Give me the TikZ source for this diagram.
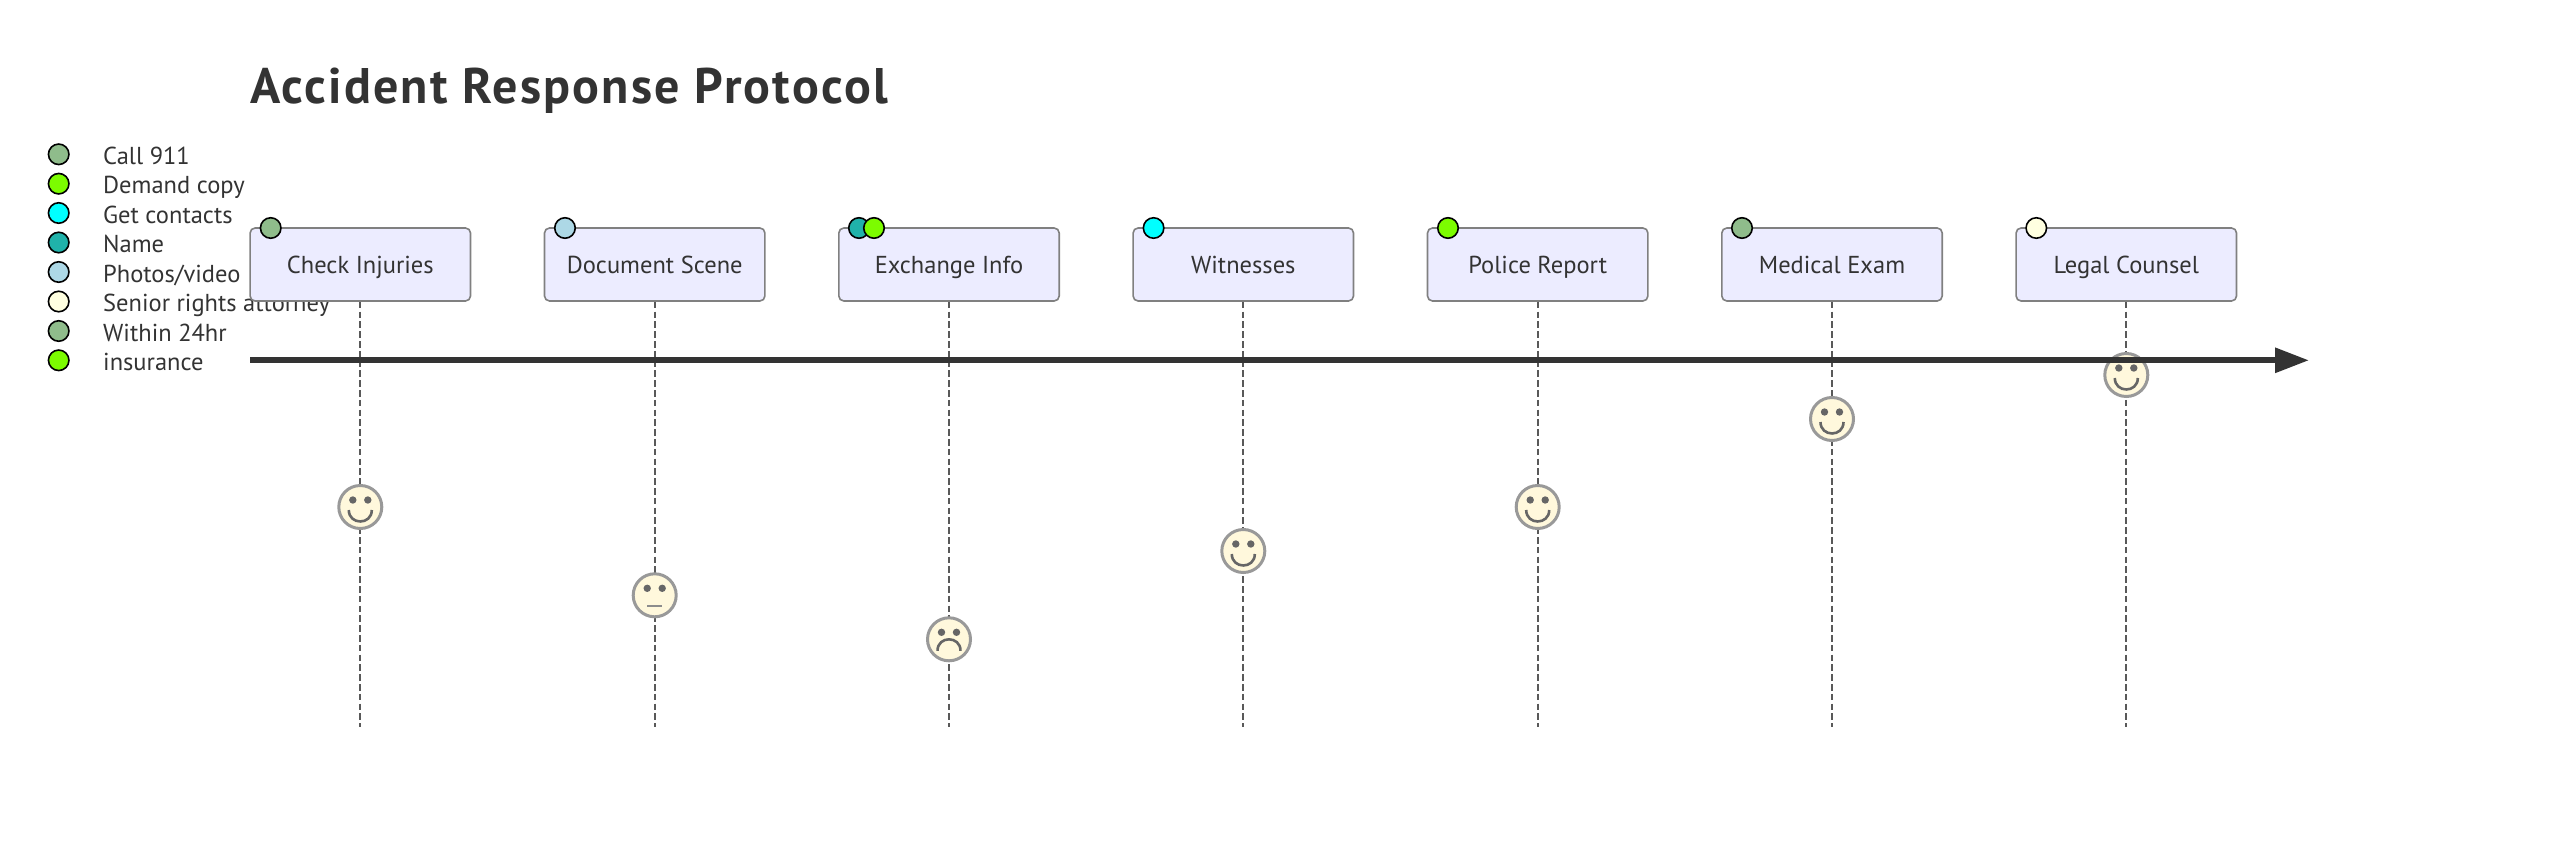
\documentclass[tikz,border=0pt]{standalone}
\usepackage{fontspec}
\setmainfont{PT Sans}
\newfontfamily\titlefont[LetterSpace=4.4]{PT Sans Bold}
\usetikzlibrary{arrows.meta}
\definecolor{txt}{HTML}{333333}
\definecolor{boxfill}{HTML}{ECECFF}
\definecolor{boxline}{HTML}{808080}
\definecolor{facefill}{HTML}{FFF8DC}
\definecolor{cA}{HTML}{8FBC8B}
\definecolor{cB}{HTML}{7CFC00}
\definecolor{cC}{HTML}{00FFFF}
\definecolor{cD}{HTML}{20B2AA}
\definecolor{cE}{HTML}{ADD8E6}
\definecolor{cF}{HTML}{FFFFE0}
\tikzset{
  x=1pt,y=-1pt,
  titletext/.style={anchor=base west,inner sep=0,text=txt,font=\fontsize{50}{50}\titlefont},
  legtext/.style={anchor=base west,inner sep=0,text=txt,font=\fontsize{24.5}{24.5}\selectfont},
  dot/.style={circle,draw=black,line width=1.6pt,minimum size=20.5pt,inner sep=0},
  taskbox/.style={draw=boxline,fill=boxfill,line width=1.6pt,rounded corners=5pt,minimum width=220.4pt,minimum height=73pt,inner sep=0,text=txt,text height=18pt,text depth=0.4pt,font=\fontsize{24.5}{24.5}\selectfont},
  faceline/.style={draw=black!65!white,line width=2pt,dash pattern=on 6.5pt off 3.3pt},
  face/.style={circle,draw=black!40!white,fill=facefill,line width=3pt,minimum size=43pt,inner sep=0},
  eye/.style={circle,fill=black!60!white,minimum size=7.4pt,inner sep=0},
  mouth/.style={draw=black!60!white,line width=2.6pt},
  flatmouth/.style={draw=black!45!white,line width=1.6pt},
  axis/.style={draw=txt,line width=6pt,-{Triangle[length=34pt,width=24pt,fill=txt]}},
}
\newcommand{\legrow}[5]{%
  \node[dot,fill=#3] (ld#1) at (58.7,#2) {};
  \node[legtext] (lt#1) at (103,#4) {#5};
}
\newcommand{\faceeyes}[1]{%
  \node[eye] (#1el) at ([xshift=-7.5pt,yshift=7pt]#1.center) {};
  \node[eye] (#1er) at ([xshift=7.5pt,yshift=7pt]#1.center) {};
}
\begin{document}
\begin{tikzpicture}
\useasboundingbox (0,0) rectangle (2560,853);
\node[titletext] (title) at (250,103.5) {Accident Response Protocol};
% legend
\legrow{1}{154.3}{cA}{164.3}{Call 911}
\legrow{2}{183.7}{cB}{194}{Demand copy}
\legrow{3}{213}{cC}{223.3}{Get contacts}
\legrow{4}{242.5}{cD}{252.7}{Name}
\legrow{5}{272}{cE}{282}{Photos/video}
\legrow{6}{301.5}{cF}{311.7}{Senior rights attorney}
\legrow{7}{331}{cA}{341}{Within 24hr}
\legrow{8}{360.3}{cB}{370.3}{insurance}
% task boxes
\foreach \n/\x/\t in {1/360.3/Check Injuries,2/654.7/Document Scene,3/949/Exchange Info,4/1243.3/Witnesses,5/1537.7/Police Report,6/1832/Medical Exam,7/2126.3/Legal Counsel}{
  \coordinate (end\n) at (\x,727);
  \node[taskbox] (box\n) at (\x,264.5) {\t};
  \draw[faceline] (box\n.south) -- (end\n);
}
% people dots on boxes
\node[dot,fill=cA] (p1) at (270.7,228) {};
\node[dot,fill=cE] (p2) at (565,228) {};
\node[dot,fill=cD] (p3a) at (859,228) {};
\node[dot,fill=cB] (p3b) at (874,228) {};
\node[dot,fill=cC] (p4) at (1153.6,228) {};
\node[dot,fill=cB] (p5) at (1448,228) {};
\node[dot,fill=cA] (p6) at (1742,228) {};
\node[dot,fill=cF] (p7) at (2036.3,228) {};
% faces
\foreach \n/\x/\y in {1/360.3/507,4/1243.3/551,5/1537.7/507,6/1832/419,7/2126.3/375}{
  \node[face] (f\n) at (\x,\y) {};
  \faceeyes{f\n}
  \draw[mouth] ([xshift=-11.5pt,yshift=-3pt]f\n.center) .. controls +(0,-15.3pt) and +(0,-15.3pt) .. ([xshift=11.5pt,yshift=-3pt]f\n.center);
}
\node[face] (f2) at (654.7,595.3) {};
\faceeyes{f2}
\draw[flatmouth] ([xshift=-7.3pt,yshift=-10.7pt]f2.center) -- ([xshift=7.3pt,yshift=-10.7pt]f2.center);
\node[face] (f3) at (949,639.3) {};
\faceeyes{f3}
\draw[mouth] ([xshift=-11.5pt,yshift=-11.5pt]f3.center) .. controls +(0,15.3pt) and +(0,15.3pt) .. ([xshift=11.5pt,yshift=-11.5pt]f3.center);
% axis
\coordinate (axstart) at (250,360.3);
\coordinate (axend) at (2309,360.3);
\draw[axis] (axstart) -- (axend);
\end{tikzpicture}
\end{document}
